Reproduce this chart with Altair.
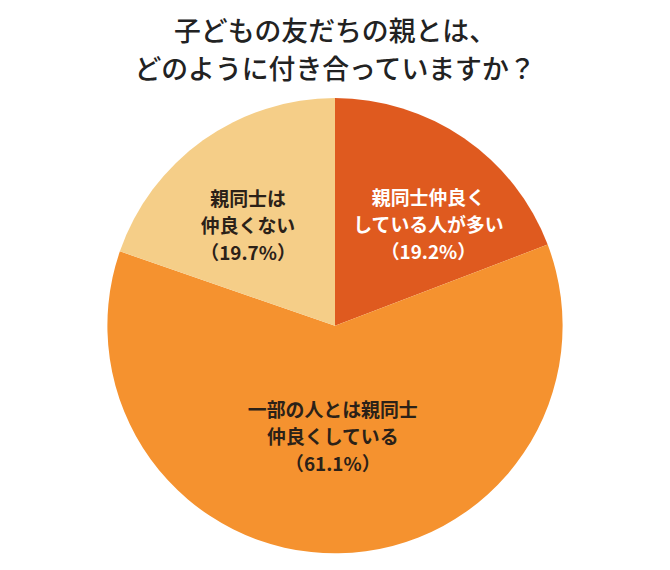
import pandas as pd
import altair as alt

# Survey answers (clockwise from 12 o'clock)
answers = ["親同士仲良く\nしている人が多い", "一部の人とは親同士\n仲良くしている", "親同士は\n仲良くない"]
shares = [19.2, 61.1, 19.7]
pct_labels = ["（19.2%）", "（61.1%）", "（19.7%）"]
order = [1, 2, 3]
colors = ["#DF5A1F", "#F5922F", "#F5CE88"]

data = pd.DataFrame({
    "answer": answers,
    "share": shares,
    "label": [a + "\n" + p for a, p in zip(answers, pct_labels)],
    "order": order,
})

FONT = "Noto Sans CJK JP"

pie = alt.Chart(data).mark_arc(outerRadius=229).encode(
    theta=alt.Theta("share:Q", stack=True, scale=alt.Scale(domain=[0, 100])),
    order=alt.Order("order:Q"),
    color=alt.Color("answer:N", scale=alt.Scale(domain=answers, range=colors), legend=None),
)


def slice_label(which, radius, dx, dy, color):
    # stack first, then keep one slice, and put its text at the middle angle
    return alt.Chart(data).transform_stack(
        stack="share", as_=["s0", "s1"], groupby=[], sort=[alt.SortField("order")]
    ).transform_filter(
        alt.datum.order == which
    ).transform_calculate(
        mid="(datum.s0 + datum.s1) / 2"
    ).mark_text(
        radius=radius, dx=dx, dy=dy, lineBreak="\n", fontSize=19, font=FONT,
        fontWeight="bold", lineHeight=27, color=color,
    ).encode(
        theta=alt.Theta("mid:Q", scale=alt.Scale(domain=[0, 100])),
        text="label:N",
    )


chart = alt.layer(
    pie,
    slice_label(1, 141, 14, -11, "white"),
    slice_label(2, 113, -4, -27, "#2b2118"),
    slice_label(3, 137, -8, -15, "#2b2118"),
).properties(
    width=658,
    height=456,
    padding={"top": 10, "left": 0, "right": 0, "bottom": 0},
    title=alt.TitleParams(
        ["子どもの友だちの親とは、", "どのように付き合っていますか？"],
        font=FONT,
        fontSize=27,
        fontWeight=500,
        color="#222222",
        lineHeight=38,
        anchor="middle",
        offset=13,
    ),
).configure_view(stroke=None)

chart.save("out.html", embed_options={"renderer": "svg", "actions": False})
